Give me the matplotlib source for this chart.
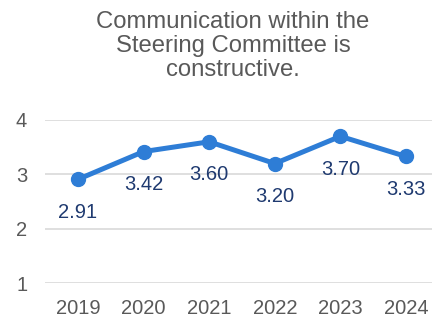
import matplotlib
matplotlib.use("Agg")
import matplotlib.pyplot as plt

years = ["2019", "2020", "2021", "2022", "2023", "2024"]
scores = [2.91, 3.42, 3.60, 3.20, 3.70, 3.33]
y_ticks = [1, 2, 3, 4]
title = "Communication within the\nSteering Committee is\nconstructive."

plt.rcParams["font.family"] = ["Liberation Sans", "DejaVu Sans"]

W, H = 432, 322
fig = plt.figure(figsize=(W / 100, H / 100), dpi=100)
fig.patch.set_facecolor("white")

# plot area in pixel terms
left_px, right_px = 45.2, 438.8
top_px, bottom_px = 120.0, 283.3
ax = fig.add_axes([left_px / W, (H - bottom_px) / H,
                   (right_px - left_px) / W, (bottom_px - top_px) / H])

x = list(range(len(years)))
line_color = "#2E7DD6"
label_color = "#1F3A70"
tick_color = "#595959"

ax.plot(x, scores, color=line_color, lw=3.6, marker="o", markersize=10,
        solid_capstyle="round", solid_joinstyle="round", zorder=3)

for xi, v in zip(x, scores):
    ax.annotate(f"{v:.2f}", (xi, v), xytext=(0, -23.8), textcoords="offset points",
                ha="center", va="center", fontsize=14.5, color=label_color)

ax.set_xlim(-0.5, len(years) - 0.5)
ax.set_ylim(1, 4)
ax.set_xticks(x)
ax.set_xticklabels(years)
ax.set_yticks(y_ticks)
ax.tick_params(axis="both", length=0, labelsize=14.5, labelcolor=tick_color)
ax.tick_params(axis="x", pad=11)
ax.tick_params(axis="y", pad=13)
ax.grid(axis="y", color="#D9D9D9", lw=1.2)
ax.set_axisbelow(True)
for s in ax.spines.values():
    s.set_visible(False)

fig.text(233 / W, 1 - 46 / H, title, ha="center", va="center",
         fontsize=17.2, color=tick_color, linespacing=1.09)

fig.savefig("out.png", dpi=100, facecolor="white")
